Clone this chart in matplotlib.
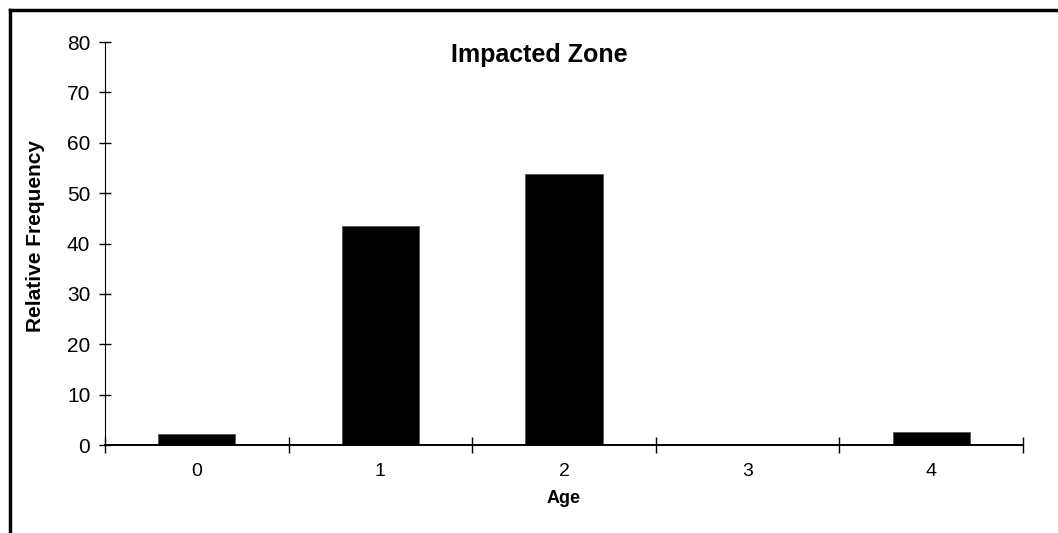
import matplotlib.pyplot as plt
import numpy as np
from matplotlib.lines import Line2D

plt.rcParams["font.family"] = ["Liberation Sans", "DejaVu Sans"]

ages = ["0", "1", "2", "3", "4"]
rel_freq = [2.2, 43.4, 53.7, 0.0, 2.6]
y_ticks = [0, 10, 20, 30, 40, 50, 60, 70, 80]

fig = plt.figure(figsize=(10.58, 5.33), dpi=100)
ax = fig.add_axes([0.0992, 0.1651, 0.8677, 0.7561])

x = np.arange(len(ages))
ax.bar(x, rel_freq, width=0.42, color="black", edgecolor="#555555", linewidth=0.6)

ax.set_xlim(-0.5, len(ages) - 0.5)
ax.set_ylim(0, 80)
ax.set_yticks(y_ticks)
ax.set_xticks(x)
ax.set_xticklabels(ages)
ax.set_xticks(np.arange(len(ages) + 1) - 0.5, minor=True)

ax.tick_params(axis="x", which="major", length=0, pad=13, labelsize=14)
ax.tick_params(axis="x", which="minor", direction="inout", length=12, width=1)
ax.tick_params(axis="y", direction="inout", length=9, width=1, pad=6, labelsize=15)

for side in ("top", "right"):
    ax.spines[side].set_visible(False)
ax.spines["left"].set_linewidth(0.8)
ax.spines["bottom"].set_linewidth(1.4)

ax.set_xlabel("Age", fontsize=13, fontweight="bold", labelpad=7)
ax.set_ylabel("Relative Frequency", fontsize=15, fontweight="bold")
ax.yaxis.set_label_coords(-0.0654, 0.519)

fig.text(0.510, 0.897, "Impacted Zone", ha="center", va="center",
         fontsize=18, fontweight="bold")

# frame around the chart (only top and left edges visible)
fig.add_artist(Line2D([0.0095, 1.0], [0.9812, 0.9812], color="black", linewidth=2.5,
                      transform=fig.transFigure))
fig.add_artist(Line2D([0.0095, 0.0095], [0.0, 0.9812], color="black", linewidth=2.5,
                      transform=fig.transFigure))

fig.savefig("out.png", dpi=100)
